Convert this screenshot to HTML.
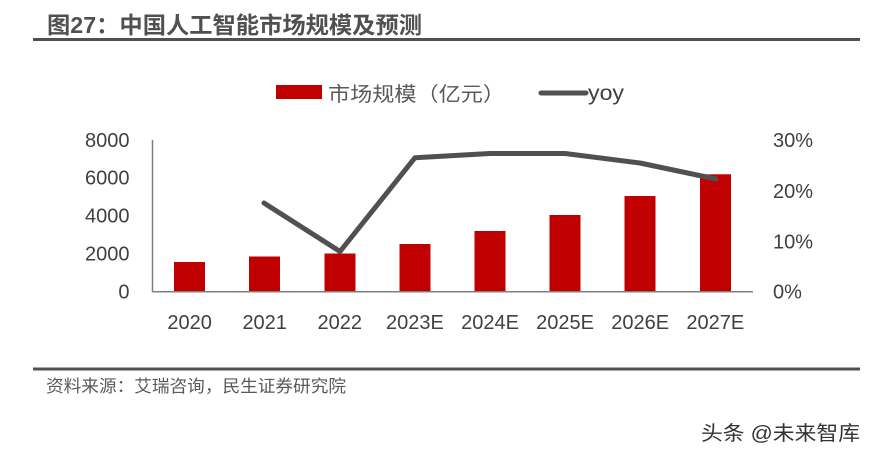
<!DOCTYPE html>
<html><head><meta charset="utf-8"><style>
html,body{margin:0;padding:0;background:#fff;}
svg{display:block;}
text{font-family:"Liberation Sans","Noto Sans CJK SC",sans-serif;}
</style></head><body>
<svg width="872" height="458" viewBox="0 0 872 458" xmlns="http://www.w3.org/2000/svg">
<rect width="872" height="458" fill="#fff"/>
<!-- title -->
<text x="47" y="33" font-size="23" font-weight="bold" fill="#505050" textLength="375" lengthAdjust="spacingAndGlyphs">图27：中国人工智能市场规模及预测</text>
<rect x="33" y="38" width="827" height="3" fill="#505050"/>
<!-- legend -->
<rect x="276" y="85" width="46" height="14" fill="#C00000"/>
<text x="328" y="101" font-size="20" fill="#595959" textLength="177" lengthAdjust="spacingAndGlyphs">市场规模（亿元）</text>
<line x1="541" y1="93" x2="586" y2="93" stroke="#505050" stroke-width="5" stroke-linecap="round"/>
<text x="588" y="100" font-size="21" fill="#404040" textLength="36" lengthAdjust="spacingAndGlyphs">yoy</text>
<!-- bars -->
<g fill="#C00000">
<rect x="174" y="262" width="31" height="30"/>
<rect x="249" y="256.5" width="31" height="35.5"/>
<rect x="324.5" y="253.5" width="31" height="38.5"/>
<rect x="399.5" y="244" width="31" height="48"/>
<rect x="474.5" y="231" width="31" height="61"/>
<rect x="549.5" y="215" width="31" height="77"/>
<rect x="624.5" y="196" width="31" height="96"/>
<rect x="700" y="174.3" width="31" height="117.7"/>
</g>
<!-- axes -->
<line x1="152.5" y1="140" x2="152.5" y2="292" stroke="#7f7f7f" stroke-width="1.5"/>
<line x1="152" y1="291.7" x2="753" y2="291.7" stroke="#7f7f7f" stroke-width="1.5"/>
<!-- line -->
<polyline points="264,203 340,251.5 415,157.7 490,153.5 565,153.5 640,163 716,179" fill="none" stroke="#505050" stroke-width="5" stroke-linecap="round" stroke-linejoin="round"/>
<!-- left labels -->
<g font-size="20" fill="#404040" text-anchor="end">
<text x="129.5" y="147">8000</text>
<text x="129.5" y="184.5">6000</text>
<text x="129.5" y="222.5">4000</text>
<text x="129.5" y="260.5">2000</text>
<text x="129.5" y="298.5">0</text>
</g>
<!-- right labels -->
<g font-size="20" fill="#404040">
<text x="773" y="147">30%</text>
<text x="773" y="198">20%</text>
<text x="773" y="248.5">10%</text>
<text x="773" y="298.5">0%</text>
</g>
<!-- x labels -->
<g font-size="20" fill="#404040" text-anchor="middle">
<text x="189.6" y="329">2020</text>
<text x="264.7" y="329">2021</text>
<text x="339.8" y="329">2022</text>
<text x="414.9" y="329">2023E</text>
<text x="490" y="329">2024E</text>
<text x="565.1" y="329">2025E</text>
<text x="640.2" y="329">2026E</text>
<text x="715.3" y="329">2027E</text>
</g>
<!-- bottom -->
<rect x="33" y="367.5" width="827" height="3" fill="#505050"/>
<text x="46" y="392" font-size="17" fill="#595959" textLength="300" lengthAdjust="spacingAndGlyphs">资料来源：艾瑞咨询，民生证券研究院</text>
<text x="701" y="440" font-size="20" fill="#333" textLength="159" lengthAdjust="spacingAndGlyphs">头条 @未来智库</text>
</svg>
</body></html>
